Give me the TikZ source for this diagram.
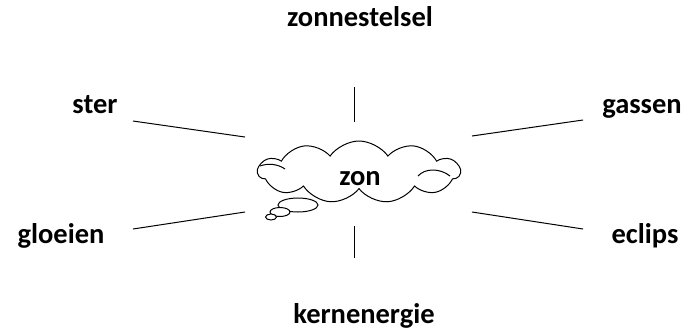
\documentclass[tikz,border=0pt]{standalone}
\usepackage{fontspec}
\setmainfont{Carlito}
\usetikzlibrary{shapes.symbols}
\tikzset{
  woord/.style={font=\bfseries\fontsize{28.5}{34}\selectfont, inner sep=0pt, anchor=base},
  streep/.style={line width=1pt},
}
\begin{document}
\begin{tikzpicture}[x=1pt,y=-1pt]
            \useasboundingbox (0,0) rectangle (688,333);
            % de wolk in het midden
            \node[cloud, draw, line width=1pt, cloud puffs=11, cloud puff arc=110,
                  cloud ignores aspect, minimum width=202pt, minimum height=62pt,
                  inner sep=0pt, fill=white] (zon) at (359,172) {};
            \draw[streep] (260,166) .. controls (268,163) and (278,164) .. (285,169);
            \draw[streep] (418,176) .. controls (425,168) and (440,168) .. (450,176);
            \draw[line width=1pt, fill=white] (298,205) ellipse (20 and 7);
            \draw[line width=1pt, fill=white] (280,212) ellipse (10 and 4.5);
            \draw[line width=1pt, fill=white] (271,217) ellipse (5.5 and 3);
            \node[woord] (zontekst) at (360,185) {zon};
            % de woorden
            \node[woord] (zonnestelsel) at (360,26) {zonnestelsel};
            \node[woord] (ster) at (95,113) {ster};
            \node[woord] (gassen) at (642,113) {gassen};
            \node[woord] (gloeien) at (61,243) {gloeien};
            \node[woord] (eclips) at (645,243) {eclips};
            \node[woord] (kernenergie) at (364,323) {kernenergie};
            % de strepen
            \coordinate (a1) at (354,87);  \coordinate (a2) at (354,122);
            \coordinate (b1) at (133,121); \coordinate (b2) at (245,137);
            \coordinate (c1) at (472,136); \coordinate (c2) at (583,120);
            \coordinate (d1) at (133,229); \coordinate (d2) at (245,212);
            \coordinate (e1) at (472,212); \coordinate (e2) at (583,229);
            \coordinate (f1) at (354,226); \coordinate (f2) at (354,258);
            \draw[streep] (a1) -- (a2);
            \draw[streep] (b1) -- (b2);
            \draw[streep] (c1) -- (c2);
            \draw[streep] (d1) -- (d2);
            \draw[streep] (e1) -- (e2);
            \draw[streep] (f1) -- (f2);
        \end{tikzpicture}
\end{document}
